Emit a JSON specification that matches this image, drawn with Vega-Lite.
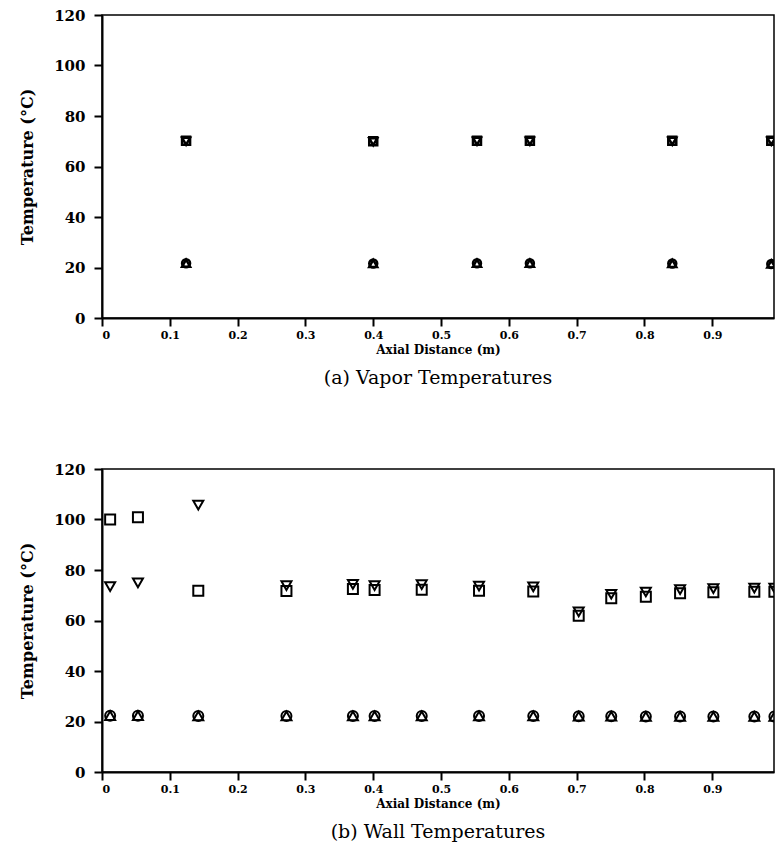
{
  "$schema": "https://vega.github.io/schema/vega-lite/v6.json",
  "background": "white",
  "padding": {"left": 18, "top": 7, "right": 0, "bottom": 0},
  "spacing": 72,
  "config": {
    "view": {"stroke": "black", "strokeWidth": 1.5},
    "axis": {
      "domainColor": "black", "domainWidth": 2, "tickColor": "black", "tickWidth": 2, "tickSize": 8,
      "labelColor": "black", "titleColor": "black", "labelFont": "DejaVu Serif", "titleFont": "DejaVu Serif",
      "labelFontWeight": "bold", "titleFontWeight": "bold", "grid": false
    },
    "title": {"font": "DejaVu Serif", "fontSize": 19, "fontWeight": "normal", "color": "black", "orient": "bottom", "anchor": "middle", "offset": 14}
  },
  "vconcat": [
    {
      "title": "(a) Vapor Temperatures",
      "width": 672, "height": 303,
      "data": {"values": [
        {"x": 0.124, "T": 70.2, "series": "sq"}, {"x": 0.124, "T": 70.0, "series": "tdown"}, {"x": 0.124, "T": 21.7, "series": "circ"}, {"x": 0.124, "T": 21.7, "series": "tup"},
        {"x": 0.400, "T": 70.0, "series": "sq"}, {"x": 0.400, "T": 69.8, "series": "tdown"}, {"x": 0.400, "T": 21.6, "series": "circ"}, {"x": 0.400, "T": 21.6, "series": "tup"},
        {"x": 0.553, "T": 70.2, "series": "sq"}, {"x": 0.553, "T": 70.0, "series": "tdown"}, {"x": 0.553, "T": 21.7, "series": "circ"}, {"x": 0.553, "T": 21.7, "series": "tup"},
        {"x": 0.631, "T": 70.2, "series": "sq"}, {"x": 0.631, "T": 70.0, "series": "tdown"}, {"x": 0.631, "T": 21.7, "series": "circ"}, {"x": 0.631, "T": 21.7, "series": "tup"},
        {"x": 0.841, "T": 70.2, "series": "sq"}, {"x": 0.841, "T": 70.0, "series": "tdown"}, {"x": 0.841, "T": 21.6, "series": "circ"}, {"x": 0.841, "T": 21.6, "series": "tup"},
        {"x": 0.987, "T": 70.2, "series": "sq"}, {"x": 0.987, "T": 70.0, "series": "tdown"}, {"x": 0.987, "T": 21.4, "series": "circ"}, {"x": 0.987, "T": 21.4, "series": "tup"}
      ]},
      "mark": {"type": "point", "filled": false, "stroke": "black", "strokeWidth": 2.5, "size": 64, "opacity": 1, "clip": true},
      "encoding": {
        "x": {"field": "x", "type": "quantitative", "scale": {"domain": [0, 0.991], "nice": false, "zero": false},
              "axis": {"title": "Axial Distance (m)", "values": [0, 0.1, 0.2, 0.3, 0.4, 0.5, 0.6, 0.7, 0.8, 0.9], "labelExpr": "datum.value == 0 ? '0' : format(datum.value, '.1f')", "labelFontSize": 11, "titleFontSize": 12, "titlePadding": 4, "labelPadding": 3}},
        "y": {"field": "T", "type": "quantitative", "scale": {"domain": [0, 120], "nice": false},
              "axis": {"title": "Temperature (°C)", "values": [0, 20, 40, 60, 80, 100, 120], "labelFontSize": 15, "titleFontSize": 16, "titlePadding": 18, "labelPadding": 9}},
        "shape": {"field": "series", "type": "nominal", "scale": {"domain": ["sq", "tdown", "circ", "tup"], "range": ["square", "triangle-down", "circle", "triangle-up"]}, "legend": null}
      }
    },
    {
      "title": "(b) Wall Temperatures",
      "width": 672, "height": 303,
      "data": {"values": [
        {"x": 0.012, "T": 100.0, "series": "sq"}, {"x": 0.012, "T": 73.4, "series": "tdown"}, {"x": 0.012, "T": 22.3, "series": "circ"}, {"x": 0.012, "T": 22.3, "series": "tup"},
        {"x": 0.053, "T": 100.9, "series": "sq"}, {"x": 0.053, "T": 74.9, "series": "tdown"}, {"x": 0.053, "T": 22.3, "series": "circ"}, {"x": 0.053, "T": 22.3, "series": "tup"},
        {"x": 0.142, "T": 71.8, "series": "sq"}, {"x": 0.142, "T": 105.7, "series": "tdown"}, {"x": 0.142, "T": 22.2, "series": "circ"}, {"x": 0.142, "T": 22.2, "series": "tup"},
        {"x": 0.272, "T": 71.7, "series": "sq"}, {"x": 0.272, "T": 73.8, "series": "tdown"}, {"x": 0.272, "T": 22.2, "series": "circ"}, {"x": 0.272, "T": 22.2, "series": "tup"},
        {"x": 0.370, "T": 72.5, "series": "sq"}, {"x": 0.370, "T": 74.3, "series": "tdown"}, {"x": 0.370, "T": 22.2, "series": "circ"}, {"x": 0.370, "T": 22.2, "series": "tup"},
        {"x": 0.402, "T": 72.1, "series": "sq"}, {"x": 0.402, "T": 73.8, "series": "tdown"}, {"x": 0.402, "T": 22.2, "series": "circ"}, {"x": 0.402, "T": 22.2, "series": "tup"},
        {"x": 0.4715, "T": 72.2, "series": "sq"}, {"x": 0.4715, "T": 74.2, "series": "tdown"}, {"x": 0.4715, "T": 22.2, "series": "circ"}, {"x": 0.4715, "T": 22.2, "series": "tup"},
        {"x": 0.556, "T": 71.8, "series": "sq"}, {"x": 0.556, "T": 73.6, "series": "tdown"}, {"x": 0.556, "T": 22.2, "series": "circ"}, {"x": 0.556, "T": 22.2, "series": "tup"},
        {"x": 0.636, "T": 71.5, "series": "sq"}, {"x": 0.636, "T": 73.3, "series": "tdown"}, {"x": 0.636, "T": 22.2, "series": "circ"}, {"x": 0.636, "T": 22.2, "series": "tup"},
        {"x": 0.703, "T": 61.9, "series": "sq"}, {"x": 0.703, "T": 63.4, "series": "tdown"}, {"x": 0.703, "T": 22.1, "series": "circ"}, {"x": 0.703, "T": 22.1, "series": "tup"},
        {"x": 0.751, "T": 68.8, "series": "sq"}, {"x": 0.751, "T": 70.4, "series": "tdown"}, {"x": 0.751, "T": 22.1, "series": "circ"}, {"x": 0.751, "T": 22.1, "series": "tup"},
        {"x": 0.802, "T": 69.4, "series": "sq"}, {"x": 0.802, "T": 71.3, "series": "tdown"}, {"x": 0.802, "T": 22.0, "series": "circ"}, {"x": 0.802, "T": 22.0, "series": "tup"},
        {"x": 0.8525, "T": 70.8, "series": "sq"}, {"x": 0.8525, "T": 72.2, "series": "tdown"}, {"x": 0.8525, "T": 22.0, "series": "circ"}, {"x": 0.8525, "T": 22.0, "series": "tup"},
        {"x": 0.9016, "T": 71.2, "series": "sq"}, {"x": 0.9016, "T": 72.6, "series": "tdown"}, {"x": 0.9016, "T": 22.0, "series": "circ"}, {"x": 0.9016, "T": 22.0, "series": "tup"},
        {"x": 0.962, "T": 71.4, "series": "sq"}, {"x": 0.962, "T": 72.8, "series": "tdown"}, {"x": 0.962, "T": 22.0, "series": "circ"}, {"x": 0.962, "T": 22.0, "series": "tup"},
        {"x": 0.9916, "T": 71.4, "series": "sq"}, {"x": 0.9916, "T": 72.8, "series": "tdown"}, {"x": 0.9916, "T": 22.0, "series": "circ"}, {"x": 0.9916, "T": 22.0, "series": "tup"}
      ]},
      "mark": {"type": "point", "filled": false, "stroke": "black", "strokeWidth": 2, "size": 100, "opacity": 1, "clip": true},
      "encoding": {
        "x": {"field": "x", "type": "quantitative", "scale": {"domain": [0, 0.991], "nice": false, "zero": false},
              "axis": {"title": "Axial Distance (m)", "values": [0, 0.1, 0.2, 0.3, 0.4, 0.5, 0.6, 0.7, 0.8, 0.9], "labelExpr": "datum.value == 0 ? '0' : format(datum.value, '.1f')", "labelFontSize": 11, "titleFontSize": 12, "titlePadding": 4, "labelPadding": 3}},
        "y": {"field": "T", "type": "quantitative", "scale": {"domain": [0, 120], "nice": false},
              "axis": {"title": "Temperature (°C)", "values": [0, 20, 40, 60, 80, 100, 120], "labelFontSize": 15, "titleFontSize": 16, "titlePadding": 18, "labelPadding": 9}},
        "shape": {"field": "series", "type": "nominal", "scale": {"domain": ["sq", "tdown", "circ", "tup"], "range": ["square", "triangle-down", "circle", "triangle-up"]}, "legend": null}
      }
    }
  ]
}
